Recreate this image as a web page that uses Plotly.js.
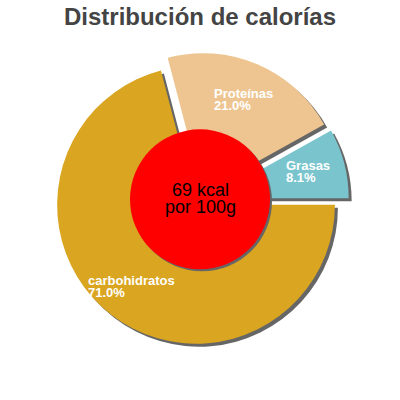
<!DOCTYPE html>
<html>
<head>
<meta charset="utf-8">
<script src="https://cdn.plot.ly/plotly-3.0.1.min.js"></script>
<style>
  html, body { margin: 0; padding: 0; background: #fff; }
  #chart { width: 400px; height: 400px; }
</style>
</head>
<body>
<div id="chart"></div>
<script>
// chart data
var labels = ['carbohidratos', 'Proteínas', 'Grasas'];
var values = [71.0, 21.0, 8.1];
var kcal = 69;
var perText = 'por 100g';
var chartTitle = 'Distribución de calorías';

// styling
var sliceColors = ['#DAA520', '#EEC591', '#7AC5CD'];
var pulls = [0.035, 0.07, 0.08];
var shadowColor = '#666666';
var font = 'Liberation Sans, Arial, sans-serif';

// where each slice label goes (pixels: left x, middle of first line y)
var labelPos = [[86, 280], [212, 93.5], [284, 165]];

function px(x) { return x / 400; }
function py(y) { return 1 - y / 400; }

var dom = { x: [0.1225, 0.8725], y: [0.1225, 0.8725] };
var off = 3 / 400;

// gray copy of the pie, shifted a bit, acts as drop shadow
var shadow = {
    type: 'pie',
    labels: labels,
    values: values,
    sort: false,
    direction: 'clockwise',
    rotation: 90,
    pull: pulls,
    textinfo: 'none',
    hoverinfo: 'skip',
    showlegend: false,
    marker: { colors: labels.map(function () { return shadowColor; }), line: { width: 0 } },
    domain: { x: [dom.x[0] + off, dom.x[1] + off], y: [dom.y[0] - off, dom.y[1] - off] }
};

var pie = {
    type: 'pie',
    labels: labels,
    values: values,
    sort: false,
    direction: 'clockwise',
    rotation: 90,
    pull: pulls,
    textinfo: 'none',
    showlegend: false,
    marker: { colors: sliceColors, line: { width: 0 } },
    domain: dom
};

var annotations = [];
labels.forEach(function (lab, i) {
    var p = labelPos[i];
    annotations.push({
        xref: 'paper', yref: 'paper', x: px(p[0]), y: py(p[1]),
        xanchor: 'left', yanchor: 'middle', showarrow: false,
        text: '<b>' + lab + '</b>', font: { family: font, size: 13, color: '#ffffff' }
    });
    annotations.push({
        xref: 'paper', yref: 'paper', x: px(p[0]), y: py(p[1] + 12.3),
        xanchor: 'left', yanchor: 'middle', showarrow: false,
        text: '<b>' + values[i].toFixed(1) + '%</b>', font: { family: font, size: 13, color: '#ffffff' }
    });
});
annotations.push({
    xref: 'paper', yref: 'paper', x: px(200), y: py(189.5),
    xanchor: 'center', yanchor: 'middle', showarrow: false,
    text: kcal + ' kcal', font: { family: font, size: 18, color: '#000000' }
});
annotations.push({
    xref: 'paper', yref: 'paper', x: px(200), y: py(206.5),
    xanchor: 'center', yanchor: 'middle', showarrow: false,
    text: perText, font: { family: font, size: 18, color: '#000000' }
});

var layout = {
    width: 400,
    height: 400,
    margin: { l: 0, r: 0, t: 0, b: 0 },
    paper_bgcolor: '#ffffff',
    title: {
        text: '<b>' + chartTitle + '</b>',
        x: 0.5, xanchor: 'center',
        y: py(16.7), yanchor: 'middle', yref: 'container',
        font: { family: font, size: 24, color: '#444444' }
    },
    shapes: [
        { type: 'circle', xref: 'paper', yref: 'paper', layer: 'above',
          x0: px(132), x1: px(272), y0: py(271.3), y1: py(131.3),
          fillcolor: shadowColor, line: { width: 0 } },
        { type: 'circle', xref: 'paper', yref: 'paper', layer: 'above',
          x0: px(130), x1: px(270), y0: py(269.3), y1: py(129.3),
          fillcolor: '#ff0000', line: { width: 0 } }
    ],
    annotations: annotations
};

Plotly.newPlot('chart', [shadow, pie], layout, { displayModeBar: false, staticPlot: true });
</script>
</body>
</html>
